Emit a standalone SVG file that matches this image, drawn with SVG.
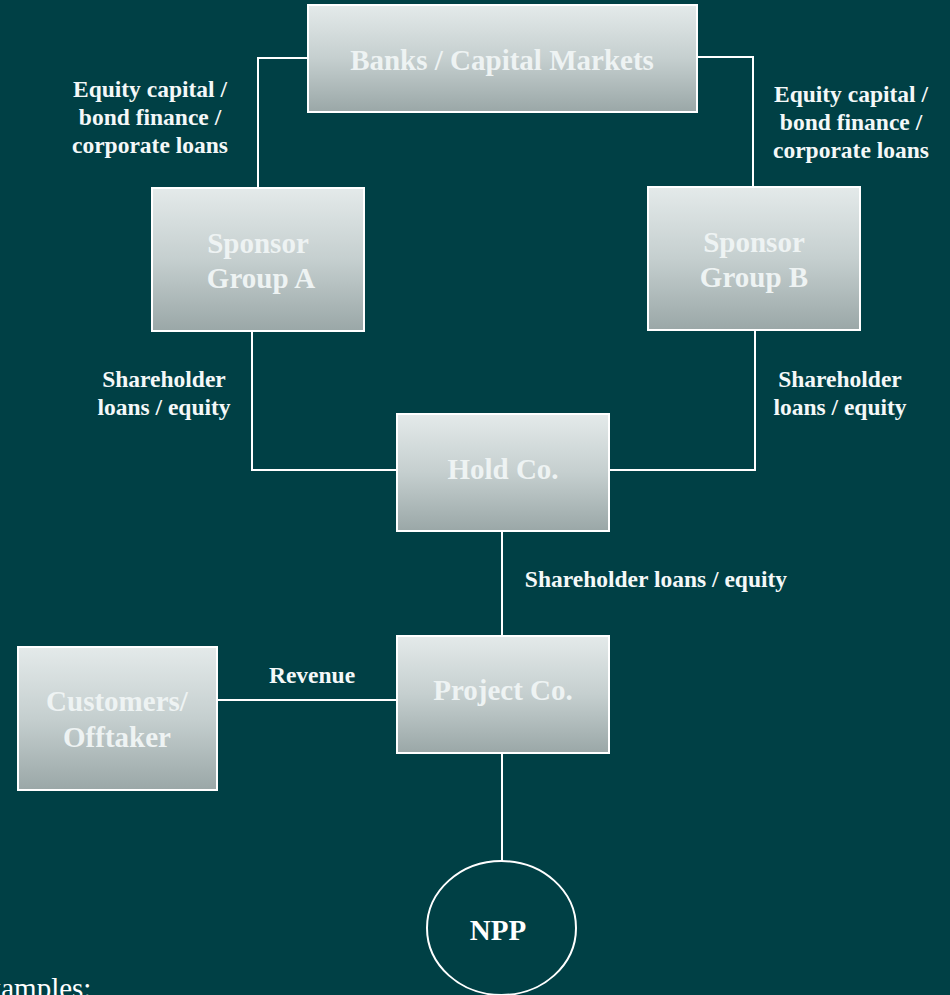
<svg xmlns="http://www.w3.org/2000/svg" width="950" height="995" viewBox="0 0 950 995">
<defs>
<linearGradient id="g" x1="0" y1="0" x2="0" y2="1">
<stop offset="0" stop-color="#e4eaea"/>
<stop offset="0.5" stop-color="#c5cfcf"/>
<stop offset="1" stop-color="#9aa7a7"/>
</linearGradient>
<style>
.box{fill:url(#g);stroke:#ffffff;stroke-width:2}
.bt{font-family:"Liberation Serif","Times New Roman",serif;font-weight:bold;font-size:29px;fill:#eef3f3;text-anchor:middle}
.lb{font-family:"Liberation Serif","Times New Roman",serif;font-weight:bold;font-size:23.5px;fill:#f4f8f8;text-anchor:middle}
.ln{fill:none;stroke:#ffffff;stroke-width:2}
</style>
</defs>
<rect width="950" height="995" fill="#004045"/>
<g id="connectors">
<polyline class="ln" points="308,58 258,58 258,188"/>
<polyline class="ln" points="697,57 753,57 753,187"/>
<polyline class="ln" points="252,331 252,470 397,470"/>
<polyline class="ln" points="755,330 755,470 609,470"/>
<line class="ln" x1="502" y1="531" x2="502" y2="636"/>
<line class="ln" x1="217" y1="700" x2="397" y2="700"/>
<line class="ln" x1="502" y1="753" x2="502" y2="861"/>
</g>
<g id="labels">
<text class="lb" x="150" y="97">Equity capital /</text>
<text class="lb" x="150" y="125">bond finance /</text>
<text class="lb" x="150" y="153">corporate loans</text>
<text class="lb" x="851" y="102">Equity capital /</text>
<text class="lb" x="851" y="130">bond finance /</text>
<text class="lb" x="851" y="158">corporate loans</text>
<text class="lb" x="164" y="387">Shareholder</text>
<text class="lb" x="164" y="415">loans / equity</text>
<text class="lb" x="840" y="387">Shareholder</text>
<text class="lb" x="840" y="415">loans / equity</text>
<text class="lb" x="656" y="587">Shareholder loans / equity</text>
<text class="lb" x="312" y="683">Revenue</text>
</g>
<g id="banks">
<rect class="box" x="308" y="5" width="389" height="107"/>
<text class="bt" x="502" y="70">Banks / Capital Markets</text>
</g>
<g id="sponsorA">
<rect class="box" x="152" y="188" width="212" height="143"/>
<text class="bt" x="258" y="253">Sponsor</text>
<text class="bt" x="261" y="288">Group A</text>
</g>
<g id="sponsorB">
<rect class="box" x="648" y="187" width="212" height="143"/>
<text class="bt" x="754" y="252">Sponsor</text>
<text class="bt" x="754" y="287">Group B</text>
</g>
<g id="holdco">
<rect class="box" x="397" y="414" width="212" height="117"/>
<text class="bt" x="503" y="479">Hold Co.</text>
</g>
<g id="projectco">
<rect class="box" x="397" y="636" width="212" height="117"/>
<text class="bt" x="503" y="700">Project Co.</text>
</g>
<g id="customers">
<rect class="box" x="18" y="647" width="199" height="143"/>
<text class="bt" x="117" y="711">Customers/</text>
<text class="bt" x="117" y="747">Offtaker</text>
</g>
<g id="npp">
<ellipse cx="501.5" cy="928" rx="74.5" ry="67" fill="none" stroke="#ffffff" stroke-width="2"/>
<text x="498" y="940" font-family="'Liberation Serif','Times New Roman',serif" font-weight="bold" font-size="29" fill="#ffffff" text-anchor="middle">NPP</text>
</g>
<text x="-31" y="998" font-family="'Liberation Serif','Times New Roman',serif" font-size="29" fill="#ffffff">Examples:</text>
</svg>
